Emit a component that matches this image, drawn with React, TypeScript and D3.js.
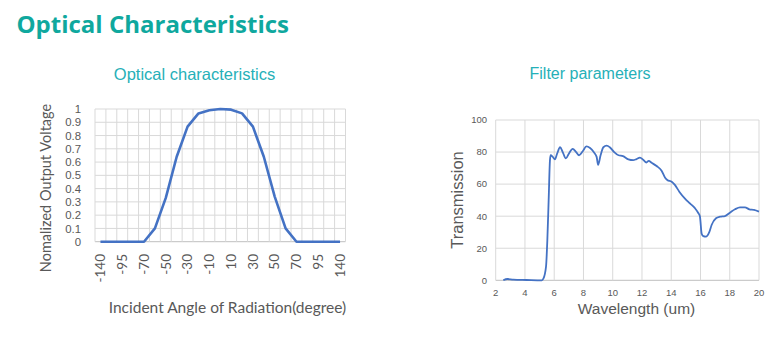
import React from "react";
import * as d3 from "d3";

const angleCategories = ["-140","-120","-95","-80","-70","-60","-50","-40","-30","-20","-10","0","10","20","30","40","50","60","70","80","95","120","140"];
const outputVoltage = [0,0,0,0,0,0.1,0.33,0.64,0.867,0.967,0.99,1.0,0.995,0.967,0.867,0.64,0.34,0.1,0,0,0,0,0];
const voltageTicks = [0,0.1,0.2,0.3,0.4,0.5,0.6,0.7,0.8,0.9,1];

const wavelength = [2.52,2.8,3.2,4.1,5.15,5.26,5.44,5.53,5.62,5.71,5.76,5.9,6.05,6.2,6.4,6.58,6.8,7.0,7.26,7.5,7.7,7.95,8.2,8.45,8.7,8.9,9.0,9.17,9.36,9.59,9.8,10.1,10.4,10.7,11.07,11.4,11.6,11.86,12.1,12.3,12.46,12.66,13.0,13.34,13.57,13.73,14.03,14.25,14.55,14.94,15.28,15.62,15.85,15.96,16.08,16.19,16.37,16.6,16.76,17.06,17.33,17.67,18.01,18.36,18.7,19.04,19.34,19.66,20];
const transmission = [0,0.8,0.4,0.2,0,1,8.5,25,50,75,78,77,75.5,79,83,80,76,79,82,80,78,80.5,83.5,82.5,80,77,72,78,83,84,83,80,78,77.5,75.5,75,75.5,76.5,75,73.5,74.5,73.3,71.3,68.4,64.2,62.6,61.5,59.5,55.3,51,48,45,42,40,29,27.5,27.2,30,34.5,38.7,39.7,40.1,42.2,44.3,45.5,45.5,44.3,43.9,42.8];
const wlTicks = [2,4,6,8,10,12,14,16,18,20];
const trTicks = [0,20,40,60,80,100];

const BLUE = "#4472C4";
const GRID = "#D9D9D9";
const TXT = "#595959";

export default function App() {
  // left chart
  const lx = d3.scaleBand<string>().domain(angleCategories).range([95, 345.5]).padding(0);
  const ly = d3.scaleLinear().domain([0, 1]).range([241.7, 109]);
  const bw = lx.bandwidth();
  const leftLine = d3.line<number>()
    .x((_, i) => (lx(angleCategories[i]) as number) + bw / 2)
    .y((d) => ly(d))(outputVoltage) as string;

  // right chart
  const rx = d3.scaleLinear().domain([2, 20]).range([495.7, 759]);
  const ry = d3.scaleLinear().domain([0, 100]).range([280.3, 120]);
  const rightLine = d3.line<number>()
    .x((_, i) => rx(wavelength[i]))
    .y((d) => ry(d))
    .curve(d3.curveMonotoneX)(transmission) as string;

  const boundaries = angleCategories.map((c) => lx(c) as number).concat([345.5]);

  return (
    <svg width={784} height={350} style={{ position: "absolute", left: 0, top: 0, background: "#fff" }}>
      <text x={16.5} y={33} fontFamily="'Open Sans', sans-serif" fontWeight="bold" fontSize={24} fill="#0FA89E">Optical Characteristics</text>

      {/* left chart */}
      <text x={194.5} y={80} textAnchor="middle" fontFamily="'Liberation Sans', Arial, sans-serif" fontSize={16.5} fill="#26B0B8">Optical characteristics</text>
      {voltageTicks.map((t) => (
        <line key={"lh" + t} x1={95} x2={345.5} y1={ly(t)} y2={ly(t)} stroke={t === 0 ? "#BFBFBF" : GRID} strokeWidth={1} />
      ))}
      {boundaries.map((b, i) => (
        <line key={"lv" + i} x1={b} x2={b} y1={109} y2={241.7} stroke={GRID} strokeWidth={1} />
      ))}
      {voltageTicks.map((t) => (
        <text key={"lt" + t} x={81} y={ly(t)} dy="0.36em" textAnchor="end" fontFamily="'Liberation Sans', Arial, sans-serif" fontSize={11.4} fill={TXT}>{String(t)}</text>
      ))}
      {angleCategories.map((c, i) =>
        i % 2 === 0 ? (
          <text key={"lx" + c} transform={`translate(${(lx(c) as number) + bw / 2},254) rotate(-90)`} dy="0.35em" textAnchor="end" fontFamily="Lato, sans-serif" fontSize={13.5} fill={TXT}>{c}</text>
        ) : null
      )}
      <path d={leftLine} fill="none" stroke={BLUE} strokeWidth={2.6} strokeLinejoin="round" />
      <text transform="translate(46,188) rotate(-90)" dy="0.35em" textAnchor="middle" fontFamily="Lato, sans-serif" fontSize={14.5} fill={TXT}>Nomalized Output Voltage</text>
      <text x={227.5} y={313} textAnchor="middle" fontFamily="Lato, sans-serif" fontSize={15.5} fill={TXT}>Incident Angle of Radiation(degree)</text>

      {/* right chart */}
      <text x={590} y={79} textAnchor="middle" fontFamily="'Liberation Sans', Arial, sans-serif" fontSize={16} fill="#26B0B8">Filter parameters</text>
      {trTicks.map((t) => (
        <line key={"rh" + t} x1={495.7} x2={759} y1={ry(t)} y2={ry(t)} stroke={t === 0 ? "#BFBFBF" : GRID} strokeWidth={1} />
      ))}
      {wlTicks.map((t) => (
        <line key={"rv" + t} x1={rx(t)} x2={rx(t)} y1={120} y2={280.3} stroke={GRID} strokeWidth={1} />
      ))}
      {trTicks.map((t) => (
        <text key={"rt" + t} x={487} y={ry(t)} dy="0.35em" textAnchor="end" fontFamily="'Liberation Sans', Arial, sans-serif" fontSize={9.5} fill={TXT}>{t}</text>
      ))}
      {wlTicks.map((t) => (
        <text key={"rx" + t} x={rx(t)} y={296} textAnchor="middle" fontFamily="'Liberation Sans', Arial, sans-serif" fontSize={9.5} fill={TXT}>{t}</text>
      ))}
      <path d={rightLine} fill="none" stroke={BLUE} strokeWidth={1.8} strokeLinejoin="round" />
      <text transform="translate(457,200) rotate(-90)" dy="0.35em" textAnchor="middle" fontFamily="'Liberation Sans', Arial, sans-serif" fontSize={16.5} fill={TXT}>Transmission</text>
      <text x={636.5} y={313.5} textAnchor="middle" fontFamily="'Liberation Sans', Arial, sans-serif" fontSize={15.5} fill={TXT}>Wavelength (um)</text>
    </svg>
  );
}
